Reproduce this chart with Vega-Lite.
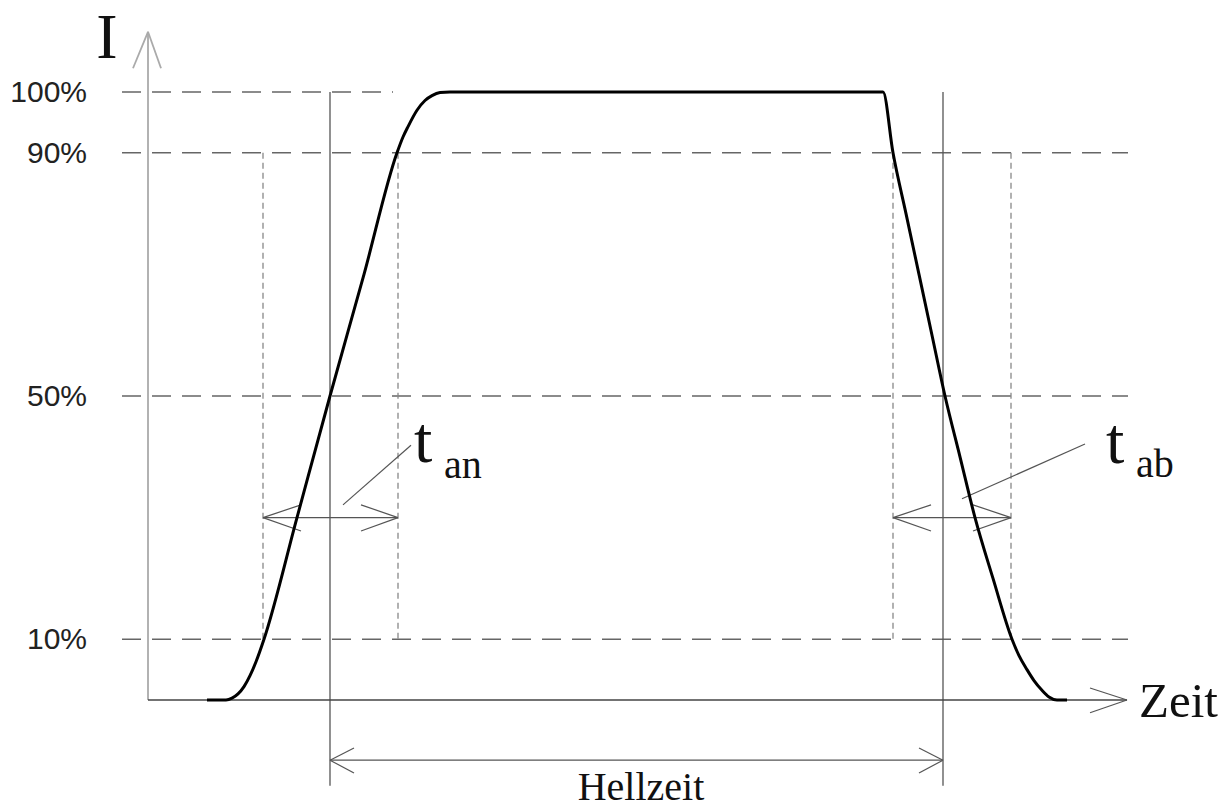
{
  "$schema": "https://vega.github.io/schema/vega-lite/v6.json",
  "width": 1231,
  "height": 810,
  "padding": 0,
  "autosize": {"type": "none"},
  "background": "white",
  "config": {"view": {"stroke": null}},
  "datasets": {
    "curve": [
      {"t": 207, "I": 0}, {"t": 226, "I": 0}, {"t": 232, "I": 0.3}, {"t": 238, "I": 1.0}, {"t": 244, "I": 2.2},
      {"t": 250, "I": 4.0}, {"t": 256, "I": 6.3}, {"t": 264, "I": 10}, {"t": 297, "I": 30}, {"t": 330, "I": 50},
      {"t": 364, "I": 70}, {"t": 397, "I": 90}, {"t": 403, "I": 92.6}, {"t": 408, "I": 94.3}, {"t": 417, "I": 97},
      {"t": 425, "I": 98.6}, {"t": 432, "I": 99.4}, {"t": 440, "I": 99.9}, {"t": 450, "I": 100}, {"t": 883, "I": 100},
      {"t": 893, "I": 90}, {"t": 906, "I": 80}, {"t": 919, "I": 70}, {"t": 932, "I": 60}, {"t": 945, "I": 50}, {"t": 960, "I": 40}, {"t": 975, "I": 30},
      {"t": 993, "I": 20}, {"t": 1012, "I": 10}, {"t": 1019, "I": 7.3}, {"t": 1027, "I": 5.0}, {"t": 1034, "I": 3.2},
      {"t": 1042, "I": 1.6}, {"t": 1049, "I": 0.5}, {"t": 1057, "I": 0}, {"t": 1067, "I": 0}
    ],
    "hdash": [
      {"t": 122, "t2": 393, "I": 100, "I2": 100},
      {"t": 122, "t2": 1128, "I": 90, "I2": 90},
      {"t": 122, "t2": 1128, "I": 50, "I2": 50},
      {"t": 122, "t2": 1128, "I": 10, "I2": 10}
    ],
    "vdash": [
      {"t": 263, "t2": 263, "I": 90, "I2": 10},
      {"t": 398, "t2": 398, "I": 90, "I2": 10},
      {"t": 893, "t2": 893, "I": 90, "I2": 10},
      {"t": 1011, "t2": 1011, "I": 90, "I2": 10}
    ],
    "solid": [
      {"t": 330, "t2": 330, "I": 100, "I2": -14.1},
      {"t": 943, "t2": 943, "I": 100, "I2": -14.1}
    ],
    "yaxis": [
      {"t": 148, "t2": 148, "I": 0, "I2": 109.9},
      {"t": 133, "t2": 148, "I": 103.9, "I2": 109.9},
      {"t": 161, "t2": 148, "I": 103.9, "I2": 109.9}
    ],
    "xaxis": [
      {"t": 148, "t2": 1127, "I": 0, "I2": 0}
    ],
    "arrows": [
      {"t": 1090, "t2": 1127, "I": 1.97, "I2": 0},
      {"t": 1090, "t2": 1127, "I": -2.1, "I2": 0},
      {"t": 263, "t2": 398, "I": 30, "I2": 30},
      {"t": 263, "t2": 301, "I": 30, "I2": 32.1},
      {"t": 263, "t2": 301, "I": 30, "I2": 27.8},
      {"t": 398, "t2": 361, "I": 30, "I2": 32.1},
      {"t": 398, "t2": 361, "I": 30, "I2": 27.8},
      {"t": 893, "t2": 1011, "I": 30, "I2": 30},
      {"t": 893, "t2": 931, "I": 30, "I2": 32.1},
      {"t": 893, "t2": 931, "I": 30, "I2": 27.8},
      {"t": 1011, "t2": 973, "I": 30, "I2": 32.1},
      {"t": 1011, "t2": 973, "I": 30, "I2": 27.8},
      {"t": 330, "t2": 943, "I": -9.9, "I2": -9.9},
      {"t": 330, "t2": 354, "I": -9.9, "I2": -7.9},
      {"t": 330, "t2": 354, "I": -9.9, "I2": -12.0},
      {"t": 943, "t2": 919, "I": -9.9, "I2": -7.9},
      {"t": 943, "t2": 919, "I": -9.9, "I2": -12.0},
      {"t": 343, "t2": 411, "I": 32.1, "I2": 41.9},
      {"t": 962, "t2": 1085, "I": 33.1, "I2": 42.1}
    ],
    "ticks": [
      {"t": 87, "I": 100, "label": "100%"},
      {"t": 87, "I": 90, "label": "90%"},
      {"t": 87, "I": 50, "label": "50%"},
      {"t": 87, "I": 10, "label": "10%"}
    ],
    "labels": [
      {"t": 107, "I": 105.6, "label": "I", "role": "I"},
      {"t": 1139, "I": -2.8, "label": "Zeit", "role": "zeit"},
      {"t": 641, "I": -16.45, "label": "Hellzeit", "role": "hell"},
      {"t": 414, "I": 39.1, "label": "t", "role": "t"},
      {"t": 1106, "I": 39.0, "label": "t", "role": "t"},
      {"t": 444, "I": 36.5, "label": "an", "role": "sub"},
      {"t": 1136, "I": 36.7, "label": "ab", "role": "sub"}
    ]
  },
  "encoding": {
    "x": {"field": "t", "type": "quantitative", "scale": {"domain": [0, 1231], "nice": false, "zero": false}, "axis": null},
    "y": {"field": "I", "type": "quantitative", "scale": {"domain": [-18.09, 115.13], "nice": false, "zero": false}, "axis": null}
  },
  "layer": [
    {
      "data": {"name": "hdash"},
      "mark": {"type": "rule", "color": "#666666", "strokeWidth": 1.6, "strokeDash": [19, 11]},
      "encoding": {"x2": {"field": "t2"}, "y2": {"field": "I2"}}
    },
    {
      "data": {"name": "vdash"},
      "mark": {"type": "rule", "color": "#888888", "strokeWidth": 1.3, "strokeDash": [6, 4]},
      "encoding": {"x2": {"field": "t2"}, "y2": {"field": "I2"}}
    },
    {
      "data": {"name": "solid"},
      "mark": {"type": "rule", "color": "#555555", "strokeWidth": 1.3},
      "encoding": {"x2": {"field": "t2"}, "y2": {"field": "I2"}}
    },
    {
      "data": {"name": "yaxis"},
      "mark": {"type": "rule", "color": "#aaaaaa", "strokeWidth": 1.8},
      "encoding": {"x2": {"field": "t2"}, "y2": {"field": "I2"}}
    },
    {
      "data": {"name": "xaxis"},
      "mark": {"type": "rule", "color": "#444444", "strokeWidth": 1.6},
      "encoding": {"x2": {"field": "t2"}, "y2": {"field": "I2"}}
    },
    {
      "data": {"name": "arrows"},
      "mark": {"type": "rule", "color": "#555555", "strokeWidth": 1.2},
      "encoding": {"x2": {"field": "t2"}, "y2": {"field": "I2"}}
    },
    {
      "data": {"name": "curve"},
      "mark": {"type": "line", "color": "#000000", "strokeWidth": 3, "interpolate": "monotone", "strokeJoin": "round"},
      "encoding": {}
    },
    {
      "data": {"name": "ticks"},
      "mark": {"type": "text", "font": "Liberation Sans", "fontSize": 30, "align": "right", "baseline": "middle", "color": "#222222", "dy": 1},
      "encoding": {"text": {"field": "label"}}
    },
    {
      "data": {"name": "labels"},
      "transform": [{"filter": "datum.role === 'I'"}],
      "mark": {"type": "text", "font": "Liberation Serif", "fontSize": 64, "align": "center", "baseline": "alphabetic", "color": "#111111"},
      "encoding": {"text": {"field": "label"}}
    },
    {
      "data": {"name": "labels"},
      "transform": [{"filter": "datum.role === 'zeit'"}],
      "mark": {"type": "text", "font": "Liberation Serif", "fontSize": 49, "align": "left", "baseline": "alphabetic", "color": "#111111"},
      "encoding": {"text": {"field": "label"}}
    },
    {
      "data": {"name": "labels"},
      "transform": [{"filter": "datum.role === 'hell'"}],
      "mark": {"type": "text", "font": "Liberation Serif", "fontSize": 40, "align": "center", "baseline": "alphabetic", "color": "#111111"},
      "encoding": {"text": {"field": "label"}}
    },
    {
      "data": {"name": "labels"},
      "transform": [{"filter": "datum.role === 't'"}],
      "mark": {"type": "text", "font": "Liberation Serif", "fontSize": 66, "align": "left", "baseline": "alphabetic", "color": "#111111"},
      "encoding": {"text": {"field": "label"}}
    },
    {
      "data": {"name": "labels"},
      "transform": [{"filter": "datum.role === 'sub'"}],
      "mark": {"type": "text", "font": "Liberation Serif", "fontSize": 40, "align": "left", "baseline": "alphabetic", "color": "#111111"},
      "encoding": {"text": {"field": "label"}}
    }
  ]
}
